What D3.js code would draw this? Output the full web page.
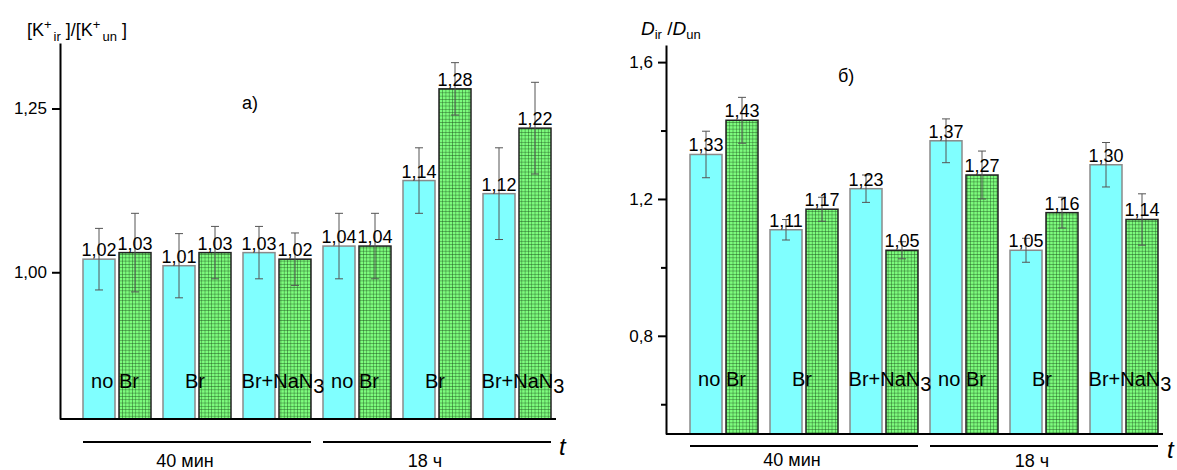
<!DOCTYPE html>
<html>
<head>
<meta charset="utf-8">
<script src="https://cdn.jsdelivr.net/npm/d3@7"></script>
<style>
  body { margin: 0; background: #fff; }
  text { font-family: "Liberation Sans", Arial, sans-serif; fill: #000; }
</style>
</head>
<body>
<div id="chart"></div>
<script>
// categories and values
const groups = ["no Br", "Br", "Br+NaN3", "no Br", "Br", "Br+NaN3"];
const timeLabels = ["40 мин", "18 ч"];

// panel a) [K+ir]/[K+un]
const kCyan = [1.02, 1.01, 1.03, 1.04, 1.14, 1.12];
const kCyanErr = [0.047, 0.049, 0.04, 0.05, 0.05, 0.07];
const kGreen = [1.03, 1.03, 1.02, 1.04, 1.28, 1.22];
const kGreenErr = [0.06, 0.04, 0.04, 0.05, 0.04, 0.07];
const kTicks = [1.00, 1.25];

// panel б) Dir/Dun
const dCyan = [1.33, 1.11, 1.23, 1.37, 1.05, 1.30];
const dCyanErr = [0.068, 0.03, 0.04, 0.064, 0.035, 0.065];
const dGreen = [1.43, 1.17, 1.05, 1.27, 1.16, 1.14];
const dGreenErr = [0.067, 0.035, 0.025, 0.07, 0.045, 0.075];
const dTicks = [0.8, 1.2, 1.6];
const dMinorTicks = [0.6, 1.0, 1.4];

const fmt = v => d3.format(".2f")(v).replace(".", ",");

const svg = d3.select("#chart").append("svg")
    .attr("width", 1177)
    .attr("height", 470);

// green cross-hatch fill
const pat = svg.append("defs").append("pattern")
    .attr("id", "grid")
    .attr("width", 3.3).attr("height", 3.3)
    .attr("patternUnits", "userSpaceOnUse");
pat.append("rect").attr("width", 3.3).attr("height", 3.3).attr("fill", "#7dfc7d");
pat.append("path").attr("d", "M0,0H3.3M0,0V3.3")
    .attr("stroke", "#1d4f1d").attr("stroke-width", 0.8);

function panel(cfg) {
    const g = svg.append("g");
    const x = d3.scaleBand().domain(d3.range(groups.length)).range(cfg.xRange);
    const y = d3.scaleLinear().domain(cfg.yDomain).range([cfg.bottom, cfg.top]);
    const cx = i => x(i) + x.bandwidth() / 2;

    const series = [
        { vals: cfg.cyan, err: cfg.cyanErr, off: -34, fill: "#80ffff", stroke: "#8a8a8a" },
        { vals: cfg.green, err: cfg.greenErr, off: 2, fill: "url(#grid)", stroke: "#222" }
    ];
    const bw = 32;

    series.forEach(s => {
        const sg = g.append("g");
        sg.selectAll("rect")
            .data(s.vals)
            .enter().append("rect")
            .attr("x", (d, i) => cx(i) + s.off)
            .attr("y", d => y(d))
            .attr("width", bw)
            .attr("height", d => cfg.bottom - y(d))
            .attr("fill", s.fill)
            .attr("stroke", s.stroke)
            .attr("stroke-width", 1.5);

        // error bars
        s.vals.forEach((d, i) => {
            const m = cx(i) + s.off + bw / 2;
            const e = s.err[i];
            sg.append("path")
                .attr("d", `M${m},${y(d + e)}V${y(d - e)}M${m - 4},${y(d + e)}H${m + 4}M${m - 4},${y(d - e)}H${m + 4}`)
                .attr("stroke", "#555")
                .attr("stroke-width", 1)
                .attr("fill", "none");
        });

        sg.selectAll("text.val")
            .data(s.vals)
            .enter().append("text")
            .attr("class", "val")
            .attr("x", (d, i) => cx(i) + s.off + bw / 2)
            .attr("y", d => y(d) - 3)
            .attr("text-anchor", "middle")
            .attr("font-size", 18)
            .text(d => fmt(d));
    });

    // category labels inside bars
    groups.forEach((name, i) => {
        const t = g.append("text")
            .attr("y", cfg.catY)
            .attr("font-size", 20)
            .attr("text-anchor", "middle");
        if (name.endsWith("3")) {
            t.attr("x", cx(i) + 6);
            t.append("tspan").text(name.slice(0, -1));
            t.append("tspan").attr("dy", 5).text("3");
        } else {
            t.attr("x", cx(i) - 2).text(name);
        }
    });

    // y axis
    const ax = g.append("g")
        .attr("transform", `translate(${cfg.xAxis},0)`)
        .call(d3.axisLeft(y).tickValues(cfg.ticks).tickSize(8).tickSizeOuter(0).tickPadding(5).tickFormat(cfg.tickFmt));
    ax.select(".domain").attr("stroke-width", 2);
    ax.selectAll(".tick line").attr("stroke-width", 2);
    ax.selectAll(".tick text").attr("font-size", 17).attr("font-family", "Liberation Sans, Arial, sans-serif");
    if (cfg.minor) {
        g.append("g")
            .attr("transform", `translate(${cfg.xAxis},0)`)
            .call(d3.axisLeft(y).tickValues(cfg.minor).tickSize(5).tickSizeOuter(0).tickFormat(""))
            .call(a => a.select(".domain").remove())
            .selectAll(".tick line").attr("stroke-width", 2);
    }

    // x axis line
    g.append("line")
        .attr("x1", cfg.xAxis).attr("x2", cfg.xEnd)
        .attr("y1", cfg.bottom).attr("y2", cfg.bottom)
        .attr("stroke", "#000").attr("stroke-width", 2);

    // time group underlines and labels
    timeLabels.forEach((lab, k) => {
        const a = cx(k * 3) - 34, b = cx(k * 3 + 2) + 34;
        g.append("line")
            .attr("x1", a).attr("x2", b)
            .attr("y1", cfg.lineY).attr("y2", cfg.lineY)
            .attr("stroke", "#000").attr("stroke-width", 2);
        g.append("text")
            .attr("x", cx(k * 3 + 1) - 12)
            .attr("y", cfg.timeY[k])
            .attr("text-anchor", "middle")
            .attr("font-size", 18)
            .text(lab);
    });

    g.append("text")
        .attr("x", cfg.tX).attr("y", cfg.tY)
        .attr("font-size", 24).attr("font-style", "italic")
        .text("t");

    g.append("text")
        .attr("x", cfg.tagX).attr("y", cfg.tagY)
        .attr("font-size", 18)
        .text(cfg.tag);

    return g;
}

const ga = panel({
    xRange: [77, 557], xAxis: 60, xEnd: 556,
    yDomain: [0.776, 1.350], top: 43, bottom: 419,
    cyan: kCyan, cyanErr: kCyanErr, green: kGreen, greenErr: kGreenErr,
    ticks: kTicks, tickFmt: fmt,
    catY: 388, lineY: 442, timeY: [467, 467],
    tX: 559, tY: 455, tag: "a)", tagX: 242, tagY: 109
});

const gb = panel({
    xRange: [684, 1164], xAxis: 666, xEnd: 1163,
    yDomain: [0.513, 1.650], top: 45, bottom: 434,
    cyan: dCyan, cyanErr: dCyanErr, green: dGreen, greenErr: dGreenErr,
    ticks: dTicks, minor: dMinorTicks, tickFmt: d => d3.format(".1f")(d).replace(".", ","),
    catY: 386, lineY: 446, timeY: [466, 467],
    tX: 1167, tY: 458, tag: "б)", tagX: 838, tagY: 82
});

// y axis titles
const ta = ga.append("text").attr("x", 27).attr("y", 36).attr("font-size", 18);
ta.append("tspan").text("[K");
ta.append("tspan").attr("font-size", 13).attr("dy", -7).text("+");
ta.append("tspan").attr("font-size", 13).attr("dy", 12).attr("dx", 2).text("ir");
ta.append("tspan").attr("dy", -5).text(" ]/[K");
ta.append("tspan").attr("font-size", 13).attr("dy", -7).text("+");
ta.append("tspan").attr("font-size", 13).attr("dy", 12).attr("dx", 2).text("un");
ta.append("tspan").attr("dy", -5).text(" ]");

const tb = gb.append("text").attr("x", 641).attr("y", 35).attr("font-size", 19);
tb.append("tspan").attr("font-style", "italic").text("D");
tb.append("tspan").attr("font-size", 13).attr("dy", 4).text("ir");
tb.append("tspan").attr("dy", -4).text(" /");
tb.append("tspan").attr("font-style", "italic").text("D");
tb.append("tspan").attr("font-size", 13).attr("dy", 4).text("un");
</script>
</body>
</html>
